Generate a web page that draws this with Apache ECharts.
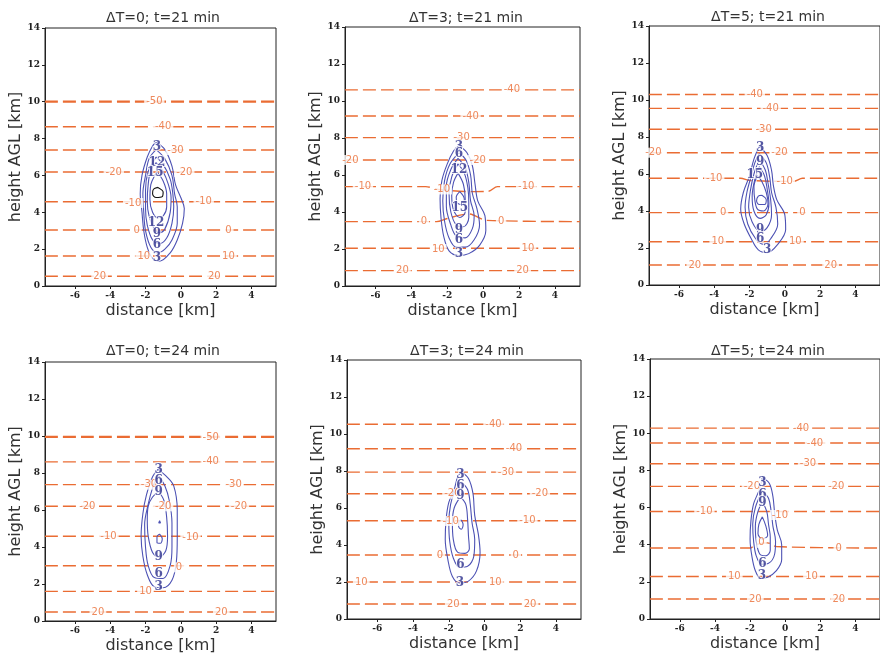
<!DOCTYPE html>
<html><head><meta charset="utf-8">
<script src="https://cdn.jsdelivr.net/npm/echarts@6/dist/echarts.min.js"></script>
<style>html,body{margin:0;padding:0;background:#fff}#c{width:880px;height:657px}</style>
</head><body><div id="c"></div><script>
// ---------- data ----------
const titles = ['ΔT=0; t=21 min','ΔT=3; t=21 min','ΔT=5; t=21 min','ΔT=0; t=24 min','ΔT=3; t=24 min','ΔT=5; t=24 min'];
const xTickValues = [-6,-4,-2,0,2,4];
const xRange = [-7.7, 5.4];
const yRange = [0, 14];

// isotherm heights (km), top to bottom
const isoH_A = [10.0, 8.64, 7.38, 6.19, 4.57, 3.04, 1.63, 0.53];
const isoH_B = [10.6, 9.19, 8.02, 6.81, 5.37, 3.48, 2.04, 0.83];
const isoH_C = [10.3, 9.55, 8.42, 7.15, 5.77, 3.91, 2.34, 1.08];
const isoH_D = [9.95, 8.6, 7.37, 6.2, 4.58, 2.99, 1.6, 0.49];
const isoH_E = [10.53, 9.2, 7.94, 6.77, 5.31, 3.46, 2.0, 0.81];
const isoH_F = [10.28, 9.48, 8.36, 7.14, 5.79, 3.82, 2.29, 1.08];

// isotherm bends: [lineIndex, x, y]
const isoBend_A = [];
const isoBend_B = [[4,-3.2,5.37],[4,-2.5,5.22],[4,-0.5,5.1],[4,0.3,5.12],[4,0.8,5.37],[5,-2.6,3.48],[5,-2.0,3.65],[5,-0.8,3.9],[5,0.2,3.55]];
const isoBend_C = [[4,-2.5,5.77],[4,-2.0,5.65],[4,0.5,5.6],[4,1.0,5.77]];
const isoBend_D = [];
const isoBend_E = [];
const isoBend_F = [[5,-2.0,3.82],[5,-1.7,4.0],[5,-1.0,4.1],[5,-0.5,3.9]];

// isotherm labels: [x, y, text]
const isoLab_A = [[-1.5,10.0,'-50'],[-1.0,8.64,'-40'],[-0.3,7.38,'-30'],[-3.8,6.19,'-20'],[0.2,6.19,'-20'],[-2.7,4.5,'-10'],[1.3,4.57,'-10'],[-2.5,3.04,'0'],[2.7,3.04,'0'],[-2.1,1.6,'10'],[2.7,1.63,'10'],[-4.6,0.53,'20'],[1.9,0.53,'20']];
const isoLab_B = [[1.6,10.6,'-40'],[-0.7,9.19,'-40'],[-1.2,8.02,'-30'],[-7.4,6.81,'-20'],[-0.3,6.81,'-20'],[-6.7,5.37,'-10'],[-2.3,5.22,'-10'],[2.4,5.37,'-10'],[-3.3,3.48,'0'],[1.0,3.48,'0'],[-2.5,2.0,'10'],[2.5,2.04,'10'],[-4.5,0.83,'20'],[2.2,0.83,'20']];
const isoLab_C = [[-1.7,10.3,'-40'],[-0.8,9.55,'-40'],[-1.2,8.42,'-30'],[-7.45,7.15,'-20'],[-0.3,7.15,'-20'],[-4.0,5.77,'-10'],[0.0,5.6,'-10'],[-3.5,3.91,'0'],[1.0,3.91,'0'],[-3.8,2.34,'10'],[0.6,2.34,'10'],[-5.1,1.08,'20'],[2.6,1.08,'20']];
const isoLab_D = [[1.7,9.95,'-50'],[1.7,8.6,'-40'],[-1.8,7.37,'-30'],[3.0,7.37,'-30'],[-5.3,6.2,'-20'],[-1.0,6.2,'-20'],[3.3,6.2,'-20'],[-4.1,4.58,'-10'],[0.55,4.5,'-10'],[-0.1,2.9,'0'],[-2.0,1.6,'10'],[-4.7,0.49,'20'],[2.3,0.49,'20']];
const isoLab_E = [[0.5,10.53,'-40'],[1.65,9.2,'-40'],[1.2,7.94,'-30'],[-1.8,6.77,'-20'],[3.1,6.77,'-20'],[-1.9,5.3,'-10'],[2.4,5.31,'-10'],[-2.5,3.46,'0'],[1.75,3.46,'0'],[-6.9,2.0,'10'],[0.6,2.0,'10'],[-1.75,0.81,'20'],[2.55,0.81,'20']];
const isoLab_F = [[0.9,10.28,'-40'],[1.7,9.48,'-40'],[1.3,8.36,'-30'],[-1.9,7.14,'-20'],[2.9,7.14,'-20'],[-4.6,5.79,'-10'],[-0.3,5.6,'-10'],[-1.35,4.1,'0'],[3.05,3.82,'0'],[-2.9,2.29,'10'],[1.5,2.29,'10'],[-1.7,1.08,'20'],[3.05,1.08,'20']];

// reflectivity-like contours (closed rings), outer to inner
const rings_A = [
 [[-1.4,7.8],[-0.9,7.4],[-0.5,6.5],[-0.3,5.5],[0.0,4.8],[0.2,4.2],[0.1,3.4],[-0.2,2.5],[-0.6,1.8],[-1.2,1.35],[-1.6,1.5],[-1.9,2.1],[-2.1,3.0],[-2.2,4.0],[-2.3,5.0],[-2.2,6.0],[-1.9,7.0],[-1.6,7.6]],
 [[-1.4,7.4],[-0.9,6.9],[-0.5,6.0],[-0.35,5.0],[-0.2,4.3],[-0.2,3.4],[-0.5,2.5],[-0.9,2.0],[-1.3,1.8],[-1.7,2.1],[-2.0,3.0],[-2.1,4.0],[-2.15,5.0],[-2.0,6.0],[-1.8,6.9]],
 [[-1.4,7.0],[-1.0,6.6],[-0.6,5.8],[-0.45,5.0],[-0.4,4.3],[-0.5,3.4],[-0.8,2.6],[-1.2,2.3],[-1.6,2.5],[-1.9,3.3],[-2.0,4.2],[-2.0,5.2],[-1.85,6.2]],
 [[-1.4,6.7],[-1.0,6.2],[-0.7,5.5],[-0.55,4.8],[-0.6,4.0],[-0.9,3.1],[-1.2,2.9],[-1.5,3.1],[-1.8,3.8],[-1.9,4.6],[-1.85,5.5],[-1.7,6.3]],
 [[-1.35,6.2],[-1.0,5.7],[-0.8,5.0],[-0.8,4.3],[-1.0,3.8],[-1.3,3.7],[-1.6,4.0],[-1.75,4.7],[-1.7,5.5]],
 [[-1.3,5.35],[-1.0,5.1],[-1.05,4.85],[-1.4,4.8],[-1.6,5.0],[-1.55,5.25]]
];
const rings_B = [
 [[-1.35,7.6],[-0.9,7.2],[-0.6,6.5],[-0.45,5.5],[-0.3,4.6],[0.1,3.8],[0.15,3.0],[-0.2,2.2],[-0.8,1.75],[-1.35,1.65],[-1.9,1.9],[-2.2,2.7],[-2.35,3.7],[-2.4,4.7],[-2.3,5.7],[-2.0,6.6],[-1.65,7.3]],
 [[-1.35,7.2],[-0.95,6.8],[-0.7,6.0],[-0.6,5.0],[-0.35,4.2],[-0.2,3.3],[-0.5,2.5],[-1.0,2.1],[-1.5,2.1],[-1.9,2.6],[-2.15,3.5],[-2.25,4.6],[-2.15,5.7],[-1.85,6.6]],
 [[-1.4,6.9],[-1.0,6.4],[-0.8,5.6],[-0.7,4.6],[-0.5,3.8],[-0.6,3.1],[-1.0,2.6],[-1.5,2.7],[-1.8,3.3],[-2.05,4.3],[-2.05,5.4],[-1.8,6.3]],
 [[-1.4,6.6],[-1.05,6.1],[-0.85,5.3],[-0.8,4.5],[-0.8,3.7],[-1.1,3.2],[-1.5,3.3],[-1.8,4.0],[-1.9,5.0],[-1.75,5.9]],
 [[-1.4,6.1],[-1.1,5.5],[-1.0,4.7],[-1.0,4.0],[-1.3,3.7],[-1.65,4.1],[-1.75,4.9],[-1.65,5.6]],
 [[-1.3,5.1],[-1.05,4.7],[-1.15,4.4],[-1.45,4.5],[-1.5,4.8]]
];
const rings_C = [
 [[-1.45,7.5],[-1.0,7.0],[-0.75,6.2],[-0.65,5.4],[-0.45,4.6],[0.0,3.8],[0.05,3.0],[-0.4,2.2],[-1.0,1.75],[-1.5,1.9],[-1.9,2.5],[-2.3,3.3],[-2.5,4.1],[-2.35,5.0],[-2.0,5.9],[-1.75,6.8]],
 [[-1.45,7.1],[-1.05,6.6],[-0.85,5.8],[-0.75,5.0],[-0.5,4.2],[-0.4,3.3],[-0.8,2.5],[-1.2,2.2],[-1.65,2.5],[-2.1,3.3],[-2.25,4.2],[-2.15,5.0],[-1.9,5.9],[-1.7,6.6]],
 [[-1.45,6.8],[-1.1,6.2],[-0.95,5.5],[-0.8,4.6],[-0.75,3.8],[-1.0,3.1],[-1.4,2.9],[-1.85,3.4],[-2.05,4.2],[-1.95,5.1],[-1.75,6.0]],
 [[-1.45,6.4],[-1.15,5.9],[-1.0,5.2],[-0.9,4.4],[-1.05,3.8],[-1.4,3.6],[-1.75,4.0],[-1.85,4.8],[-1.7,5.7]],
 [[-1.55,5.9],[-1.3,5.6],[-1.05,5.0],[-0.95,4.4],[-1.2,4.0],[-1.55,4.1],[-1.7,4.6],[-1.75,5.3]],
 [[-1.3,4.85],[-1.05,4.6],[-1.15,4.35],[-1.45,4.35],[-1.6,4.55],[-1.5,4.8]]
];
const rings_D = [
 [[-1.3,8.2],[-0.8,7.8],[-0.4,7.3],[-0.2,6.0],[-0.2,4.5],[-0.25,3.2],[-0.5,2.2],[-1.0,1.8],[-1.5,1.85],[-1.9,2.5],[-2.15,3.5],[-2.25,4.6],[-2.15,5.8],[-1.95,6.8],[-1.6,7.8]],
 [[-1.3,7.9],[-0.9,7.3],[-0.65,6.5],[-0.5,5.3],[-0.5,4.0],[-0.6,3.0],[-1.0,2.3],[-1.5,2.35],[-1.85,3.0],[-2.0,4.0],[-2.05,5.2],[-1.85,6.3],[-1.6,7.2]],
 [[-1.25,7.0],[-0.95,6.5],[-0.8,5.6],[-0.75,4.6],[-0.85,3.8],[-1.25,3.45],[-1.6,3.7],[-1.85,4.6],[-1.9,5.5],[-1.85,6.2],[-1.6,6.7]],
 [[-1.2,4.7],[-1.05,4.45],[-1.15,4.2],[-1.35,4.25],[-1.35,4.55]],
 [[-1.2,5.42],[-1.15,5.3],[-1.25,5.3]]
];
const rings_E = [
 [[-1.3,7.95],[-0.9,7.6],[-0.65,6.8],[-0.55,5.6],[-0.35,4.6],[-0.25,3.6],[-0.45,2.6],[-0.9,2.05],[-1.4,1.95],[-1.8,2.3],[-2.05,3.2],[-2.2,4.3],[-2.15,5.4],[-2.0,6.3],[-1.7,7.0],[-1.5,7.7]],
 [[-1.3,7.4],[-0.95,7.0],[-0.8,6.2],[-0.7,5.2],[-0.55,4.3],[-0.6,3.4],[-0.95,2.85],[-1.4,2.8],[-1.75,3.3],[-1.95,4.2],[-2.0,5.2],[-1.9,6.2],[-1.7,6.8]],
 [[-1.35,6.6],[-1.05,6.2],[-0.95,5.4],[-0.9,4.5],[-0.85,3.8],[-1.1,3.55],[-1.5,3.6],[-1.75,4.3],[-1.8,5.2],[-1.7,6.0]],
 [[-1.3,5.35],[-1.2,5.1],[-1.3,4.85],[-1.45,5.0],[-1.42,5.3]]
];
const rings_F = [
 [[-1.3,7.6],[-0.9,7.3],[-0.7,6.6],[-0.6,5.7],[-0.45,4.8],[-0.2,4.0],[-0.2,3.2],[-0.5,2.6],[-1.0,2.25],[-1.4,2.2],[-1.7,2.6],[-1.9,3.4],[-2.0,4.3],[-1.95,5.3],[-1.8,6.2],[-1.5,6.9]],
 [[-1.3,6.9],[-0.95,6.5],[-0.8,5.8],[-0.7,5.0],[-0.55,4.2],[-0.6,3.5],[-0.95,3.0],[-1.35,2.95],[-1.65,3.4],[-1.8,4.2],[-1.85,5.1],[-1.7,6.0]],
 [[-1.3,6.3],[-1.05,5.8],[-0.95,5.1],[-0.85,4.4],[-0.85,3.7],[-1.1,3.4],[-1.45,3.5],[-1.65,4.2],[-1.7,5.0],[-1.55,5.8]],
 [[-1.3,5.5],[-1.1,5.0],[-1.0,4.5],[-1.3,4.3],[-1.55,4.6],[-1.5,5.1]]
];

// contour labels: [x, y, text]
const cLab_A = [[-1.35,7.55,'3'],[-1.35,6.66,'12'],[-1.45,6.15,'15'],[-1.4,3.4,'12'],[-1.35,2.85,'9'],[-1.35,2.25,'6'],[-1.35,1.55,'3']];
const cLab_B = [[-1.35,7.5,'3'],[-1.35,7.12,'6'],[-1.35,6.27,'12'],[-1.3,4.2,'15'],[-1.35,3.03,'9'],[-1.35,2.52,'6'],[-1.35,1.73,'3']];
const cLab_C = [[-1.4,7.4,'3'],[-1.4,6.66,'9'],[-1.7,5.95,'15'],[-1.4,3.0,'9'],[-1.4,2.49,'6'],[-1.0,1.89,'3']];
const cLab_D = [[-1.25,8.15,'3'],[-1.25,7.6,'6'],[-1.25,6.97,'9'],[-1.25,3.46,'9'],[-1.25,2.56,'6'],[-1.25,1.84,'3']];
const cLab_E = [[-1.35,7.8,'3'],[-1.35,7.2,'6'],[-1.35,6.65,'9'],[-1.35,2.95,'6'],[-1.38,1.94,'3']];
const cLab_F = [[-1.3,7.35,'3'],[-1.3,6.7,'6'],[-1.3,6.25,'9'],[-1.3,2.98,'6'],[-1.33,2.3,'3']];

// ---------- layout / style ----------
const layout = [
 {left:45, top:28, width:231, height:258, tx:158, ty:6},
 {left:345, top:27, width:235, height:259, tx:461, ty:6},
 {left:649, top:26, width:235, height:259, tx:763, ty:5},
 {left:45, top:362, width:231, height:259, tx:158, ty:339},
 {left:347, top:360, width:234, height:259, tx:462, ty:339},
 {left:650, top:359, width:234, height:260, tx:763, ty:339}
];
const panels = [
 {iso:isoH_A, bend:isoBend_A, isoLab:isoLab_A, rings:rings_A, cLab:cLab_A, darkInner:true},
 {iso:isoH_B, bend:isoBend_B, isoLab:isoLab_B, rings:rings_B, cLab:cLab_B},
 {iso:isoH_C, bend:isoBend_C, isoLab:isoLab_C, rings:rings_C, cLab:cLab_C},
 {iso:isoH_D, bend:isoBend_D, isoLab:isoLab_D, rings:rings_D, cLab:cLab_D},
 {iso:isoH_E, bend:isoBend_E, isoLab:isoLab_E, rings:rings_E, cLab:cLab_E},
 {iso:isoH_F, bend:isoBend_F, isoLab:isoLab_F, rings:rings_F, cLab:cLab_F}
];
const ORANGE = '#ea6c33', BLUE = '#4d52b4', DARKBLUE = '#2b2e8c', TXT = '#333';

const option = {animation:false, backgroundColor:'#fff', title:[], grid:[], xAxis:[], yAxis:[], series:[]};
panels.forEach((p, i) => {
  const L = layout[i];
  option.title.push({text:titles[i], left:L.tx, top:L.ty, textAlign:'center',
    textStyle:{fontSize:14, fontWeight:'normal', fontFamily:'DejaVu Sans', color:TXT}});
  option.grid.push({left:L.left, top:L.top, width:L.width, height:L.height, show:true,
    borderColor:'#222', borderWidth:1, backgroundColor:'#fff', containLabel:false});
  option.xAxis.push({type:'value', gridIndex:i, min:xRange[0], max:xRange[1],
    name:'distance [km]', nameLocation:'middle', nameGap:17,
    nameTextStyle:{fontSize:16, fontFamily:'DejaVu Sans', color:TXT},
    axisLine:{show:true, onZero:false, lineStyle:{color:'#222'}},
    axisTick:{show:true, length:3, customValues:xTickValues, lineStyle:{color:'#222'}},
    axisLabel:{show:true, customValues:xTickValues, margin:5, fontSize:9, fontFamily:'DejaVu Serif', fontWeight:'bold', color:'#222'},
    splitLine:{show:false}});
  option.yAxis.push({type:'value', gridIndex:i, min:yRange[0], max:yRange[1], interval:2,
    name:'height AGL [km]', nameLocation:'middle', nameGap:21, nameRotate:90,
    nameTextStyle:{fontSize:16, fontFamily:'DejaVu Sans', color:TXT},
    axisLine:{show:true, onZero:false, lineStyle:{color:'#222'}},
    axisTick:{show:true, length:3, lineStyle:{color:'#222'}},
    axisLabel:{margin:5, fontSize:9, fontFamily:'DejaVu Serif', fontWeight:'bold', color:'#222'},
    splitLine:{show:false}});
  // isotherms
  p.iso.forEach((h, k) => {
    const pts = [[xRange[0], h]];
    p.bend.filter(b => b[0] === k).forEach(b => pts.push([b[1], b[2]]));
    pts.push([xRange[1], h]);
    pts.sort((a, b) => a[0] - b[0]);
    option.series.push({type:'line', xAxisIndex:i, yAxisIndex:i, data:pts, symbol:'none', smooth:0.3,
      silent:true, z:2, lineStyle:{color:ORANGE, width:(k === 0 && (i === 0 || i === 3)) ? 2.2 : 1.4, type:[13,5]}});
  });
  // contours
  p.rings.forEach((r, k) => {
    const dark = p.darkInner && k === p.rings.length - 1;
    option.series.push({type:'line', xAxisIndex:i, yAxisIndex:i, data:r.concat([r[0]]), symbol:'none', smooth:0.35,
      silent:true, z:3, lineStyle:{color: dark ? '#111' : BLUE, width:1.1}});
  });
  // isotherm labels
  option.series.push({type:'scatter', xAxisIndex:i, yAxisIndex:i, symbolSize:1, silent:true, z:4,
    itemStyle:{color:'rgba(0,0,0,0)'},
    data:p.isoLab.map(d => ({value:[d[0], d[1]], name:d[2]})),
    label:{show:true, position:'inside', formatter:'{b}', color:ORANGE, fontSize:10, fontFamily:'DejaVu Sans',
      backgroundColor:'#fff', padding:[0,2]}});
  // contour labels
  option.series.push({type:'scatter', xAxisIndex:i, yAxisIndex:i, symbolSize:1, silent:true, z:5,
    itemStyle:{color:'rgba(0,0,0,0)'},
    data:p.cLab.map(d => ({value:[d[0], d[1]], name:d[2]})),
    label:{show:true, position:'inside', formatter:'{b}', color:DARKBLUE, fontSize:12, fontWeight:'bold',
      fontFamily:'DejaVu Serif', textBorderColor:'#fff', textBorderWidth:2}});
});
const chart = echarts.init(document.getElementById('c'), null, {renderer:'canvas'});
chart.setOption(option);
</script></body></html>
